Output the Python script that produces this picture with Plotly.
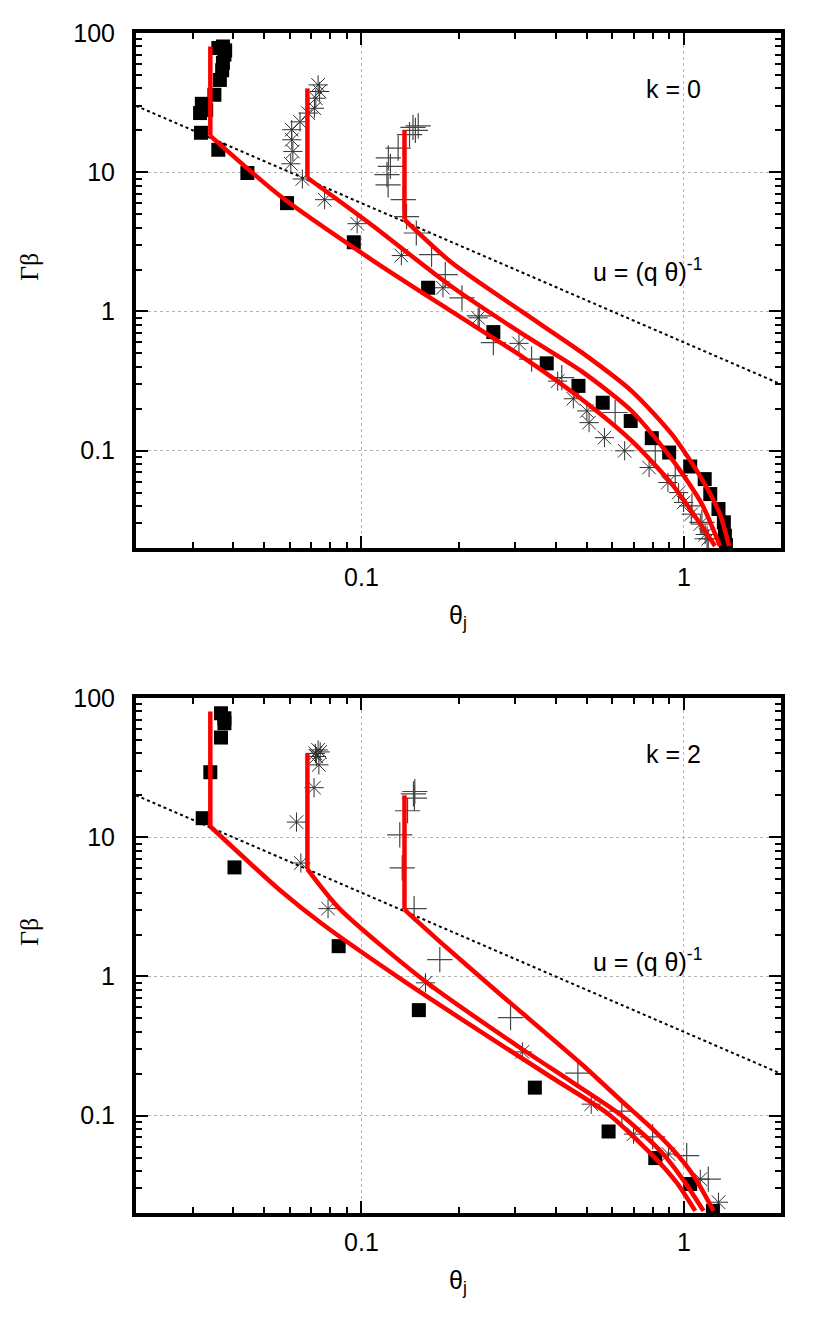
import plotly.graph_objects as go
from plotly.subplots import make_subplots

# ---------------- data: k = 0 (top panel) ----------------
k0_sq_x = [0.0318, 0.0316, 0.032, 0.033, 0.035, 0.0364, 0.037, 0.0372, 0.0376, 0.0372, 0.036, 0.0378,
           0.036, 0.0443, 0.0588, 0.0947, 0.161, 0.2565, 0.3755, 0.471, 0.56, 0.684, 0.795, 0.90,
           1.046, 1.16, 1.207, 1.28, 1.33, 1.34, 1.35]
k0_sq_y = [19.2, 26.6, 31, 28, 36, 46, 54, 61, 70, 80, 78, 75,
           14.5, 9.87, 6.0, 3.14, 1.48, 0.711, 0.424, 0.292, 0.221, 0.1635, 0.123, 0.097,
           0.077, 0.0625, 0.0488, 0.0381, 0.0306, 0.0245, 0.021]

k0_ast_x = [0.0734, 0.0742, 0.0722, 0.0715, 0.0684, 0.0645, 0.0608, 0.0608, 0.0613, 0.0604, 0.0656,
            0.0769, 0.097, 0.133, 0.179, 0.230, 0.308, 0.406, 0.454, 0.5, 0.508, 0.567, 0.655,
            0.78, 0.892, 0.963, 0.998, 1.054, 1.124, 1.164, 1.19]
k0_ast_y = [42.4, 38, 34, 28.8, 26.6, 23, 20.2, 17.1, 14.1, 11.5, 8.94,
            6.35, 4.27, 2.52, 1.48, 0.90, 0.59, 0.316, 0.236, 0.193, 0.159, 0.124, 0.0998,
            0.0757, 0.0591, 0.050, 0.0425, 0.035, 0.0297, 0.025, 0.0233]

k0_pl_x = [0.1445, 0.147, 0.15, 0.141, 0.130, 0.1212, 0.123, 0.12, 0.121, 0.1348, 0.138, 0.148,
           0.165, 0.182, 0.205, 0.232, 0.2565, 0.337, 0.418, 0.612, 0.815, 0.94, 1.059, 1.137, 1.18]
k0_pl_y = [21, 20, 21.5, 18.6, 14.9, 12.7, 11.0, 9.6, 8.1, 6.35, 4.8, 3.66,
           2.56, 1.84, 1.25, 0.93, 0.597, 0.455, 0.335, 0.188, 0.0998, 0.0663, 0.0401, 0.0306, 0.0233]

# red model curves: first two points = vertical drop, then the spreading phase
k0_c1_x = [0.034, 0.034, 0.0564, 0.1074, 0.1903, 0.314, 0.482, 0.690, 0.918, 1.097, 1.248]
k0_c1_y = [80, 18.26, 6.67, 2.36, 1.0, 0.476, 0.234, 0.117, 0.0575, 0.0323, 0.0207]
k0_c2_x = [0.068, 0.068, 0.1074, 0.1903, 0.314, 0.482, 0.690, 0.918, 1.137, 1.293]
k0_c2_y = [40, 9.13, 4.20, 1.51, 0.695, 0.371, 0.192, 0.0869, 0.0413, 0.0207]
k0_c3_x = [0.136, 0.136, 0.1903, 0.314, 0.482, 0.690, 0.918, 1.137, 1.293, 1.380]
k0_c3_y = [20, 4.565, 2.245, 1.0, 0.508, 0.267, 0.131, 0.0625, 0.035, 0.0207]

k0_line_x = [0.02, 2.0]
k0_line_y = [30.0, 0.3]

# ---------------- data: k = 2 (bottom panel) ----------------
k2_sq_x = [0.0367, 0.0376, 0.0376, 0.0367, 0.034, 0.0322, 0.0404, 0.085, 0.1507, 0.345, 0.584, 0.815, 1.046, 1.23]
k2_sq_y = [77.7, 71.5, 65.9, 52, 29.3, 13.7, 6.07, 1.65, 0.573, 0.159, 0.077, 0.0496, 0.0323, 0.0207]

k2_ast_x = [0.0734, 0.072, 0.0745, 0.0725, 0.0738, 0.0713, 0.0629, 0.0649, 0.0788, 0.158, 0.3155, 0.516, 0.698, 0.896, 1.124, 1.28]
k2_ast_y = [42.4, 40, 41, 38, 33.1, 22.7, 12.85, 6.53, 3.07, 0.90, 0.287, 0.121, 0.0737, 0.053, 0.035, 0.0239]

k2_pl_x = [0.1464, 0.145, 0.146, 0.139, 0.1315, 0.1338, 0.1457, 0.175, 0.29, 0.469, 0.642, 0.80, 1.02, 1.19]
k2_pl_y = [21.3, 20.5, 19.1, 15.5, 10.4, 6.03, 3.07, 1.32, 0.506, 0.202, 0.108, 0.0705, 0.0516, 0.035]

k2_c1_x = [0.034, 0.034, 0.0564, 0.076, 0.133, 0.1903, 0.389, 0.584, 0.815, 0.95, 1.084]
k2_c1_y = [80, 11.94, 4.09, 2.36, 0.952, 0.549, 0.188, 0.1025, 0.0496, 0.033, 0.0207]
k2_c2_x = [0.068, 0.068, 0.0855, 0.158, 0.3155, 0.449, 0.65, 0.85, 1.0, 1.15]
k2_c2_y = [40, 5.9, 3.07, 0.92, 0.30, 0.175, 0.098, 0.055, 0.034, 0.0207]
k2_c3_x = [0.136, 0.136, 0.175, 0.26, 0.482, 0.642, 0.80, 0.95, 1.08, 1.236]
k2_c3_y = [20, 3.02, 1.78, 0.80, 0.234, 0.127, 0.08, 0.053, 0.036, 0.0207]

k2_line_x = [0.02, 2.0]
k2_line_y = [20.0, 0.2]

# ticks
y_tickvals = [0.1, 1, 10, 100]
y_ticktext = ["0.1", "1", "10", "100"]
x_tickvals = [0.1, 1]
x_ticktext = ["0.1", "1"]
x_minor = [0.02, 0.03, 0.04, 0.05, 0.06, 0.07, 0.08, 0.09, 0.2, 0.3, 0.4, 0.5, 0.6, 0.7, 0.8, 0.9, 2]
y_minor = [0.02, 0.03, 0.04, 0.05, 0.06, 0.07, 0.08, 0.09, 0.2, 0.3, 0.4, 0.5, 0.6, 0.7, 0.8, 0.9,
           2, 3, 4, 5, 6, 7, 8, 9, 20, 30, 40, 50, 60, 70, 80, 90]

# page layout (the html body adds an 8px margin around the figure)
OFF = 8
W, H = 830 - 2 * OFF, 1329 - 2 * OFF
PL, PR, PT, PB = 136, 781, 33, 1213          # plot-area edges in page pixels
ML, MT = PL - OFF, PT - OFF
MR = W - (PR - OFF)
MB = H - (PB - OFF)
PW = W - ML - MR
PH = H - MT - MB
top_dom = [(1213 - 548) / PH, 1.0]
bot_dom = [0.0, 515 / PH]

def px_x(px):
    return (px - PL) / PW

def px_y(py):
    return 1 - (py - PT) / PH

fig = make_subplots(rows=2, cols=1)

RED = "#ff0000"
AST_C = "#303030"
PL_C = "#474747"

def add_panel(row, sq_x, sq_y, ast_x, ast_y, pl_x, pl_y, curves, lx, ly):
    fig.add_trace(go.Scatter(x=lx, y=ly, mode="lines",
                             line=dict(color="black", width=2, dash="dot"),
                             showlegend=False, hoverinfo="skip"), row=row, col=1)
    fig.add_trace(go.Scatter(x=pl_x, y=pl_y, mode="markers",
                             marker=dict(symbol="cross-thin-open", size=18, color=PL_C,
                                         line=dict(color=PL_C, width=1.2)),
                             showlegend=False), row=row, col=1)
    fig.add_trace(go.Scatter(x=ast_x, y=ast_y, mode="markers",
                             marker=dict(symbol="asterisk-open", size=16, color=AST_C,
                                         line=dict(color=AST_C, width=1.0)),
                             showlegend=False), row=row, col=1)
    fig.add_trace(go.Scatter(x=sq_x, y=sq_y, mode="markers",
                             marker=dict(symbol="square", size=14, color="black",
                                         line=dict(width=0)),
                             showlegend=False), row=row, col=1)
    for cx, cy in curves:
        # vertical (coasting) part
        fig.add_trace(go.Scatter(x=cx[:2], y=cy[:2], mode="lines",
                                 line=dict(color=RED, width=4.5),
                                 showlegend=False), row=row, col=1)
        # spreading part
        fig.add_trace(go.Scatter(x=cx[1:], y=cy[1:], mode="lines",
                                 line=dict(color=RED, width=4.5, shape="spline", smoothing=0.7),
                                 showlegend=False), row=row, col=1)

add_panel(1, k0_sq_x, k0_sq_y, k0_ast_x, k0_ast_y, k0_pl_x, k0_pl_y,
          [(k0_c1_x, k0_c1_y), (k0_c2_x, k0_c2_y), (k0_c3_x, k0_c3_y)], k0_line_x, k0_line_y)
add_panel(2, k2_sq_x, k2_sq_y, k2_ast_x, k2_ast_y, k2_pl_x, k2_pl_y,
          [(k2_c1_x, k2_c1_y), (k2_c2_x, k2_c2_y), (k2_c3_x, k2_c3_y)], k2_line_x, k2_line_y)

FONT = "Liberation Sans, Arial, Helvetica"
axis_common = dict(showline=True, linewidth=4, linecolor="black", mirror="allticks",
                   ticks="inside", ticklen=12, tickwidth=2, tickcolor="black",
                   showgrid=True, gridcolor="#b4b4b4", gridwidth=1, griddash="dot",
                   zeroline=False, automargin=False,
                   tickfont=dict(family=FONT, size=25, color="black"))

for r, dom in [(1, top_dom), (2, bot_dom)]:
    fig.update_xaxes(type="log", range=[-1.69897, 0.30103], tickvals=x_tickvals, ticktext=x_ticktext,
                     minor=dict(tickvals=x_minor, ticks="inside", ticklen=6, tickwidth=2,
                                tickcolor="black", showgrid=False),
                     ticklabelstandoff=4, row=r, col=1, **axis_common)
    fig.update_yaxes(type="log", range=[-1.69897, 2.0], tickvals=y_tickvals, ticktext=y_ticktext,
                     minor=dict(tickvals=y_minor, ticks="inside", ticklen=6, tickwidth=2,
                                tickcolor="black", showgrid=False),
                     domain=dom, ticklabelstandoff=12, row=r, col=1, **axis_common)

fig.update_xaxes(domain=[0, 1])

ann_font = dict(family=FONT, size=25, color="black")
annotations = []
for ktext, ypx_k, ypx_u, ypx_xt, ypx_yt in [
        ("k = 0", 89, 270, 617, 267),
        ("k = 2", 754, 960, 1282, 932)]:
    annotations.append(dict(text=ktext, xref="paper", yref="paper",
                            x=px_x(673), y=px_y(ypx_k),
                            showarrow=False, font=ann_font, xanchor="center", yanchor="middle"))
    annotations.append(dict(text="u = (q \u03b8)<sup>-1</sup>", xref="paper", yref="paper",
                            x=px_x(647), y=px_y(ypx_u),
                            showarrow=False, font=ann_font, xanchor="center", yanchor="middle"))
    annotations.append(dict(text="\u03b8<sub>j</sub>", xref="paper", yref="paper",
                            x=px_x(458), y=px_y(ypx_xt),
                            showarrow=False, font=ann_font, xanchor="center", yanchor="middle"))
    annotations.append(dict(text="\u0393\u03b2", xref="paper", yref="paper",
                            x=px_x(29), y=px_y(ypx_yt),
                            showarrow=False, textangle=-90,
                            font=dict(family="Liberation Serif, Times New Roman", size=26, color="black"),
                            xanchor="center", yanchor="middle"))

fig.update_layout(width=W, height=H, margin=dict(l=ML, r=MR, t=MT, b=MB),
                  paper_bgcolor="white", plot_bgcolor="white",
                  annotations=annotations, showlegend=False)

fig.write_html("out.html")
